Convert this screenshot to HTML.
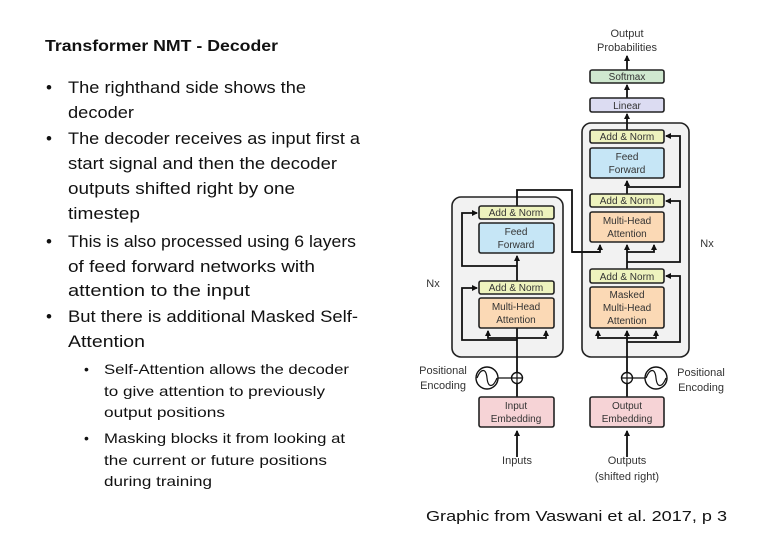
<!DOCTYPE html>
<html><head><meta charset="utf-8"><style>
html,body{margin:0;padding:0;background:#fff;width:766px;height:539px;overflow:hidden}
svg{display:block}
.t{font-family:"Liberation Sans",sans-serif;fill:#111}
.d{font-family:"Liberation Sans",sans-serif;fill:#333;font-size:10px;text-anchor:middle}
.bx{stroke:#222;stroke-width:1.6}
.ln{stroke:#111;stroke-width:1.8;fill:none}
</style></head><body>
<svg width="766" height="539" viewBox="0 0 766 539" xmlns="http://www.w3.org/2000/svg">
<defs><marker id="a" markerWidth="6" markerHeight="6" refX="5" refY="3" orient="auto" markerUnits="userSpaceOnUse"><path d="M0,0 L6,3 L0,6z" fill="#111"/></marker></defs>
<!-- left text -->
<text class="t" x="45" y="51" font-size="16" font-weight="bold" textLength="233" lengthAdjust="spacingAndGlyphs">Transformer NMT - Decoder</text>
<g class="t" font-size="17">
<text x="46" y="93">•</text><text x="68" y="93" textLength="238" lengthAdjust="spacingAndGlyphs">The righthand side shows the</text>
<text x="68" y="118" textLength="66" lengthAdjust="spacingAndGlyphs">decoder</text>
<text x="46" y="144">•</text><text x="68" y="144" textLength="292" lengthAdjust="spacingAndGlyphs">The decoder receives as input first a</text>
<text x="68" y="169" textLength="269" lengthAdjust="spacingAndGlyphs">start signal and then the decoder</text>
<text x="68" y="194" textLength="227" lengthAdjust="spacingAndGlyphs">outputs shifted right by one</text>
<text x="68" y="219" textLength="72" lengthAdjust="spacingAndGlyphs">timestep</text>
<text x="46" y="247">•</text><text x="68" y="247" textLength="288" lengthAdjust="spacingAndGlyphs">This is also processed using 6 layers</text>
<text x="68" y="272" textLength="247" lengthAdjust="spacingAndGlyphs">of feed forward networks with</text>
<text x="68" y="296" textLength="182" lengthAdjust="spacingAndGlyphs">attention to the input</text>
<text x="46" y="322">•</text><text x="68" y="322" textLength="290" lengthAdjust="spacingAndGlyphs">But there is additional Masked Self-</text>
<text x="68" y="347" textLength="77" lengthAdjust="spacingAndGlyphs">Attention</text>
</g>
<g class="t" font-size="14">
<text x="84" y="374">•</text><text x="104" y="374" textLength="245" lengthAdjust="spacingAndGlyphs">Self-Attention allows the decoder</text>
<text x="104" y="396" textLength="221" lengthAdjust="spacingAndGlyphs">to give attention to previously</text>
<text x="104" y="417" textLength="121" lengthAdjust="spacingAndGlyphs">output positions</text>
<text x="84" y="443">•</text><text x="104" y="443" textLength="241" lengthAdjust="spacingAndGlyphs">Masking blocks it from looking at</text>
<text x="104" y="465" textLength="223" lengthAdjust="spacingAndGlyphs">the current or future positions</text>
<text x="104" y="486" textLength="108" lengthAdjust="spacingAndGlyphs">during training</text>
</g>
<text class="t" x="426" y="521" font-size="15" textLength="301" lengthAdjust="spacingAndGlyphs">Graphic from Vaswani et al. 2017, p 3</text>

<!-- big boxes -->
<rect x="452" y="197" width="111" height="160" rx="9" fill="#f2f2f2" stroke="#222" stroke-width="1.6"/>
<rect x="582" y="123" width="107" height="234" rx="9" fill="#f2f2f2" stroke="#222" stroke-width="1.6"/>

<!-- connectors encoder -->
<path class="ln" d="M517 457 V431" marker-end="url(#a)"/>
<path class="ln" d="M517 397 V384"/>
<path class="ln" d="M517 372 V300" marker-end="url(#a)"/>
<path class="ln" d="M517 340 H462 V288 H477" marker-end="url(#a)"/>
<path class="ln" d="M517 338 H488 V331" marker-end="url(#a)"/>
<path class="ln" d="M517 338 H546 V331" marker-end="url(#a)"/>
<path class="ln" d="M517 281 V256" marker-end="url(#a)"/>
<path class="ln" d="M517 266 H462 V213 H477" marker-end="url(#a)"/>
<!-- encoder output to decoder -->
<path class="ln" d="M517 206 V190 H572 V252 H600 V245" marker-end="url(#a)"/>
<path class="ln" d="M572 252 H600"/>
<!-- decoder -->
<path class="ln" d="M627 457 V431" marker-end="url(#a)"/>
<path class="ln" d="M627 397 V384"/>
<path class="ln" d="M627 372 V331" marker-end="url(#a)"/>
<path class="ln" d="M627 342 H680 V276 H666" marker-end="url(#a)"/>
<path class="ln" d="M627 338 H598 V331" marker-end="url(#a)"/>
<path class="ln" d="M627 338 H656 V331" marker-end="url(#a)"/>
<path class="ln" d="M627 269 V245" marker-end="url(#a)"/>
<path class="ln" d="M627 262 H680 V201 H666" marker-end="url(#a)"/>
<path class="ln" d="M627 252 H654 V245" marker-end="url(#a)"/>
<path class="ln" d="M627 194 V181" marker-end="url(#a)"/>
<path class="ln" d="M627 187 H680 V136 H666" marker-end="url(#a)"/>
<path class="ln" d="M627 130 V114" marker-end="url(#a)"/>
<path class="ln" d="M627 98 V85" marker-end="url(#a)"/>
<path class="ln" d="M627 70 V56" marker-end="url(#a)"/>

<!-- small boxes -->
<g class="bx">
<rect x="590" y="70" width="74" height="13" rx="2" fill="#cfe8cf"/>
<rect x="590" y="98" width="74" height="14" rx="2" fill="#dcdcf2"/>
<rect x="590" y="130" width="74" height="13" rx="2" fill="#eef3be"/>
<rect x="590" y="148" width="74" height="30" rx="2" fill="#c6e6f6"/>
<rect x="590" y="194" width="74" height="13" rx="2" fill="#eef3be"/>
<rect x="590" y="212" width="74" height="30" rx="2" fill="#fbd9b5"/>
<rect x="590" y="269" width="74" height="14" rx="2" fill="#eef3be"/>
<rect x="590" y="287" width="74" height="41" rx="2" fill="#fbd9b5"/>
<rect x="479" y="206" width="75" height="13" rx="2" fill="#eef3be"/>
<rect x="479" y="223" width="75" height="30" rx="2" fill="#c6e6f6"/>
<rect x="479" y="281" width="75" height="13" rx="2" fill="#eef3be"/>
<rect x="479" y="298" width="75" height="30" rx="2" fill="#fbd9b5"/>
<rect x="479" y="397" width="75" height="30" rx="2" fill="#f6d3d6"/>
<rect x="590" y="397" width="74" height="30" rx="2" fill="#f6d3d6"/>
</g>
<!-- positional encodings -->
<g fill="#fff" stroke="#111" stroke-width="1.4">
<circle cx="517" cy="378" r="5.5"/><circle cx="627" cy="378" r="5.5"/>
<circle cx="487" cy="378" r="11"/><circle cx="656" cy="378" r="11"/>
</g>
<path d="M511.5 378h11M517 372.5v11M621.5 378h11M627 372.5v11M498 378h13.5M633 378h12" stroke="#111" stroke-width="1.2"/>
<path d="M477 378 C481 368 486 368 487 378 C488 388 493 388 497 378" fill="none" stroke="#111" stroke-width="1.2"/>
<path d="M646 378 C650 368 655 368 656 378 C657 388 662 388 666 378" fill="none" stroke="#111" stroke-width="1.2"/>

<!-- labels -->
<g class="d">
<text x="627" y="37" font-size="11">Output</text>
<text x="627" y="51" font-size="11">Probabilities</text>
<text x="627" y="80">Softmax</text>
<text x="627" y="109">Linear</text>
<text x="627" y="140">Add &amp; Norm</text>
<text x="627" y="160">Feed</text><text x="627" y="173">Forward</text>
<text x="627" y="204">Add &amp; Norm</text>
<text x="627" y="224">Multi-Head</text><text x="627" y="237">Attention</text>
<text x="627" y="280">Add &amp; Norm</text>
<text x="627" y="298">Masked</text><text x="627" y="311">Multi-Head</text><text x="627" y="324">Attention</text>
<text x="516" y="216">Add &amp; Norm</text>
<text x="516" y="235">Feed</text><text x="516" y="248">Forward</text>
<text x="516" y="291">Add &amp; Norm</text>
<text x="516" y="310">Multi-Head</text><text x="516" y="323">Attention</text>
<text x="516" y="409">Input</text><text x="516" y="422">Embedding</text>
<text x="627" y="409">Output</text><text x="627" y="422">Embedding</text>
<text x="517" y="464" font-size="11">Inputs</text>
<text x="627" y="464" font-size="11">Outputs</text>
<text x="627" y="480" font-size="11">(shifted right)</text>
<text x="433" y="287" font-size="11">Nx</text>
<text x="707" y="247" font-size="11">Nx</text>
<text x="443" y="374" font-size="11">Positional</text>
<text x="443" y="389" font-size="11">Encoding</text>
<text x="701" y="376" font-size="11">Positional</text>
<text x="701" y="391" font-size="11">Encoding</text>
</g>
</svg>
</body></html>
